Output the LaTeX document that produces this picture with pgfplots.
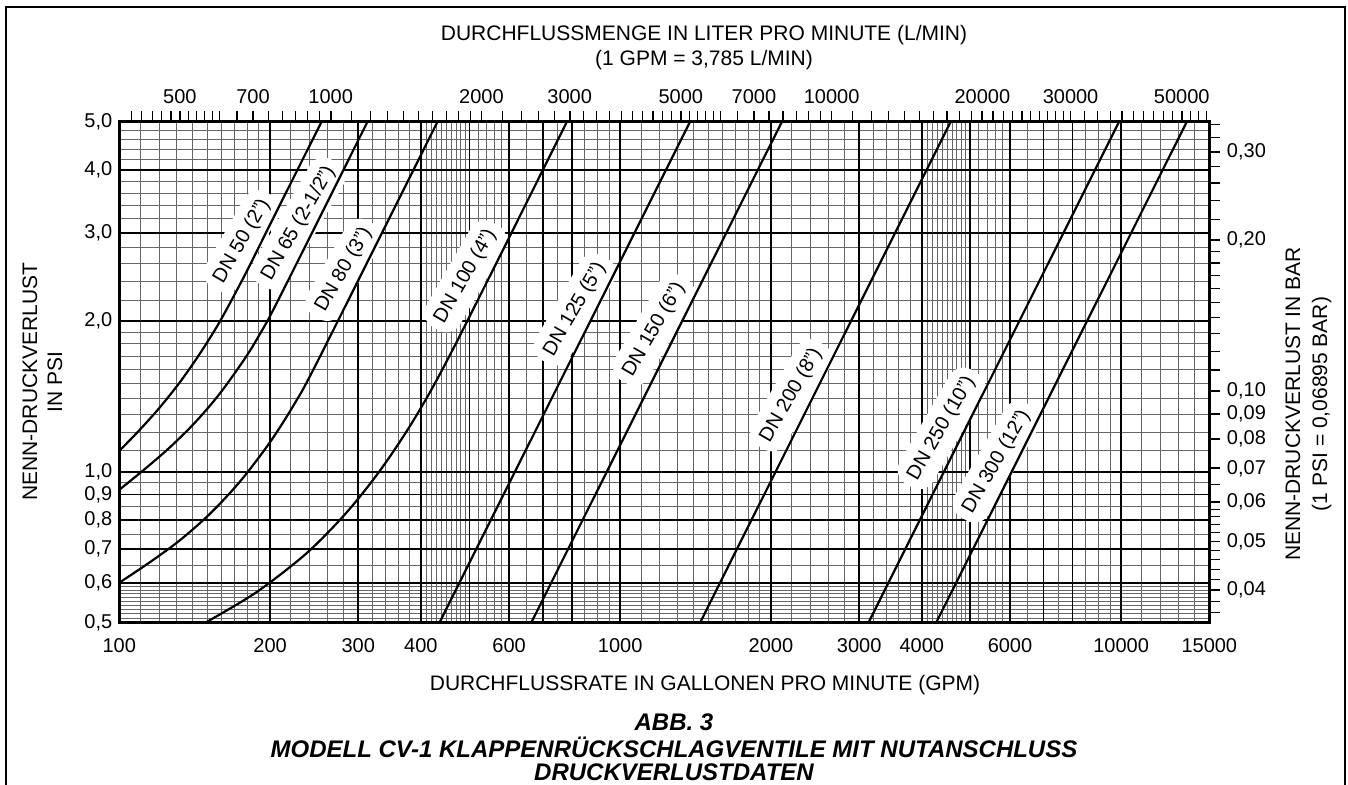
\documentclass[border=0pt]{standalone}
\usepackage{fontspec}
\setmainfont{Liberation Sans}
\usepackage{pgfplots}
\pgfplotsset{compat=1.18}
\pgfplotsset{
  myframe/.style={at={(59.65pt,-311.15pt)}, anchor=south west, scale only axis,
    width=545pt, height=250.3pt, font=\fontsize{10}{12}\selectfont},
}
\tikzset{lbl/.style={fill=white, rounded corners=8pt, inner xsep=4pt, inner ysep=5pt, rotate=60,
    font=\fontsize{10}{12}\selectfont}}
\begin{document}
\begin{tikzpicture}
\useasboundingbox (0,0) rectangle (674pt,-392.5pt);
% minor grid
\begin{axis}[myframe, xmode=log, ymode=log, xmin=100, xmax=15000, ymin=0.5, ymax=5,
  xtick={110,120,130,140,150,160,170,180,190,220,240,260,280,320,340,360,380,410,420,430,440,450,460,470,480,490,520,540,560,580,650,750,850,900,950,1100,1200,1300,1400,1500,1600,1700,1800,1900,2200,2400,2600,2800,3200,3400,3600,3800,4100,4200,4300,4400,4500,4600,4700,4800,4900,5200,5400,5600,5800,6500,7500,8500,9000,9500,11000,12000,13000,14000},
  ytick={0.51,0.52,0.53,0.54,0.55,0.56,0.57,0.58,0.59,0.65,0.75,0.85,0.95,1.1,1.2,1.3,1.4,1.5,1.6,1.7,1.8,1.9,2.2,2.4,2.6,2.8,3.2,3.4,3.6,3.8,4.2,4.4,4.6,4.8},
  xticklabel={\relax}, yticklabel={\relax}, grid=major,
  major grid style={black!60, line width=0.45pt},
  tick style={draw=none}, axis line style={draw=none}]
\end{axis}
% major grid
\begin{axis}[myframe, xmode=log, ymode=log, xmin=100, xmax=15000, ymin=0.5, ymax=5,
  xtick={200,300,400,500,600,700,800,1000,2000,3000,4000,5000,6000,7000,8000,10000},
  ytick={0.6,0.7,0.8,0.9,1,2,3,4},
  xticklabel={\relax}, yticklabel={\relax}, grid=major,
  major grid style={black, line width=0.9pt},
  tick style={draw=none}, axis line style={draw=none}]
\end{axis}
% top axis (L/min)
\begin{axis}[myframe, xmode=log, xmin=378.5, xmax=56775, ymin=0, ymax=1,
  axis x line*=top, axis y line=none,
  xtick={500,700,1000,2000,3000,5000,7000,10000,20000,30000,50000},
  xticklabels={500,700,1000,2000,3000,5000,7000,10000,20000,30000,50000},
  minor xtick={400,420,440,460,480,520,540,560,580,600,650,750,800,850,900,950,1100,1200,1300,1400,1500,1600,1700,1800,1900,2200,2400,2600,2800,3200,3400,3600,3800,4000,4200,4400,4600,4800,5200,5400,5600,5800,6000,6500,7500,8000,8500,9000,9500,11000,12000,13000,14000,15000,16000,17000,18000,19000,21000,22000,23000,24000,25000,26000,27000,28000,29000,32000,34000,36000,38000,40000,42000,44000,46000,48000,52000,54000,56000},
  tick align=outside, major tick length=5.3pt, minor tick length=5.3pt,
  major tick style={black, line width=0.9pt}, minor tick style={black, line width=0.55pt},
  axis line style={line width=1.3pt}]
\end{axis}
% right axis (bar)
\begin{axis}[myframe, ymode=log, ymin=0.034475, ymax=0.34475, xmin=0, xmax=1,
  axis y line*=right, axis x line=none,
  ytick={0.04,0.05,0.06,0.07,0.08,0.09,0.1,0.2,0.3},
  yticklabels={{0,04},{0,05},{0,06},{0,07},{0,08},{0,09},{0,10},{0,20},{0,30}},
  minor ytick={0.036,0.038,0.042,0.044,0.046,0.048,0.052,0.054,0.056,0.058,0.065,0.11,0.12,0.13,0.14,0.15,0.16,0.17,0.18,0.19,0.22,0.24,0.26,0.28,0.32,0.34},
  tick align=outside, major tick length=5.3pt, minor tick length=5.3pt,
  major tick style={black, line width=0.9pt}, minor tick style={black, line width=0.55pt},
  axis line style={line width=1.3pt}]
\end{axis}
% main axis with curves
\begin{axis}[myframe, xmode=log, ymode=log, xmin=100, xmax=15000, ymin=0.5, ymax=5,
  xtick={100,200,300,400,600,1000,2000,3000,4000,6000,10000,15000},
  xticklabels={100,200,300,400,600,1000,2000,3000,4000,6000,10000,15000},
  ytick={0.5,0.6,0.7,0.8,0.9,1,2,3,4,5},
  yticklabels={{0,5},{0,6},{0,7},{0,8},{0,9},{1,0},{2,0},{3,0},{4,0},{5,0}},
  xticklabel style={yshift=-4.5pt},
  tick style={draw=none}, axis line style={line width=1.3pt}]
\node[lbl] at (axis cs:175.8,2.886) {DN 50 (2")};
\node[lbl] at (axis cs:228,3.13) {DN 65 (2-1/2")};
\node[lbl] at (axis cs:280.5,2.53) {DN 80 (3")};
\node[lbl] at (axis cs:491,2.455) {DN 100 (4")};
\node[lbl] at (axis cs:812,2.107) {DN 125 (5")};
\node[lbl] at (axis cs:1168,1.92) {DN 150 (6")};
\node[lbl] at (axis cs:2195,1.42) {DN 200 (8")};
\node[lbl] at (axis cs:4379,1.22) {DN 250 (10")};
\node[lbl] at (axis cs:5641,1.046) {DN 300 (12")};
\addplot[black, line width=1.1pt, smooth] coordinates {(100,1.10) (109.6,1.209) (120.2,1.340) (131.8,1.504) (144.5,1.715) (158.5,1.989) (177.8,2.462) (199.5,3.100) (253.4,5.0)};
\addplot[black, line width=1.1pt, smooth] coordinates {(100,0.92) (112.2,1.010) (125.9,1.116) (141.3,1.250) (158.5,1.429) (177.8,1.678) (190.5,1.877) (208.9,2.228) (313,5.0)};
\addplot[black, line width=1.1pt, smooth] coordinates {(100,0.60) (114.8,0.658) (131.8,0.728) (151.4,0.822) (173.8,0.953) (199.5,1.141) (223.9,1.368) (251.2,1.693) (431.8,5.0)};
\addplot[black, line width=1.1pt, smooth] coordinates {(149,0.5) (187.6,0.5737) (236.2,0.6862) (283.9,0.8274) (333.6,1.0137) (392,1.295) (471.2,1.813) (782.8,5.0)};
\addplot[black, line width=1.1pt] coordinates {(436,0.5) (1379,5.0)};
\addplot[black, line width=1.1pt] coordinates {(665,0.5) (2103,5.0)};
\addplot[black, line width=1.1pt] coordinates {(1445,0.5) (4569,5.0)};
\addplot[black, line width=1.1pt] coordinates {(3133,0.5) (9907,5.0)};
\addplot[black, line width=1.1pt] coordinates {(4277,0.5) (13525,5.0)};
\end{axis}
% frame
\draw[line width=1pt] (3pt,-392.5pt) -- (3pt,-3.65pt) -- (672.5pt,-3.65pt) -- (672.5pt,-392.5pt);
% texts
\begin{scope}[every node/.style={font=\fontsize{10.5}{12.5}\selectfont, inner sep=0pt}]
\node at (352pt,-17.5pt) {DURCHFLUSSMENGE IN LITER PRO MINUTE (L/MIN)};
\node at (352pt,-30pt) {(1 GPM = 3,785 L/MIN)};
\node at (352.5pt,-342.5pt) {DURCHFLUSSRATE IN GALLONEN PRO MINUTE (GPM)};
\node[rotate=90, align=center] at (21.25pt,-190.85pt) {NENN-DRUCKVERLUST\\IN PSI};
\node[rotate=90, align=center, font=\fontsize{10.5}{13.5}\selectfont] at (654.25pt,-202pt) {NENN-DRUCKVERLUST IN BAR\\(1 PSI = 0,06895 BAR)};
\end{scope}
\begin{scope}[every node/.style={font=\fontsize{12}{12}\selectfont\bfseries\itshape, inner sep=0pt}]
\node at (337pt,-361pt) {ABB. 3};
\node at (337pt,-373.5pt) {MODELL CV-1 KLAPPENRÜCKSCHLAGVENTILE MIT NUTANSCHLUSS};
\node at (337pt,-386pt) {DRUCKVERLUSTDATEN};
\end{scope}
\end{tikzpicture}
\end{document}
